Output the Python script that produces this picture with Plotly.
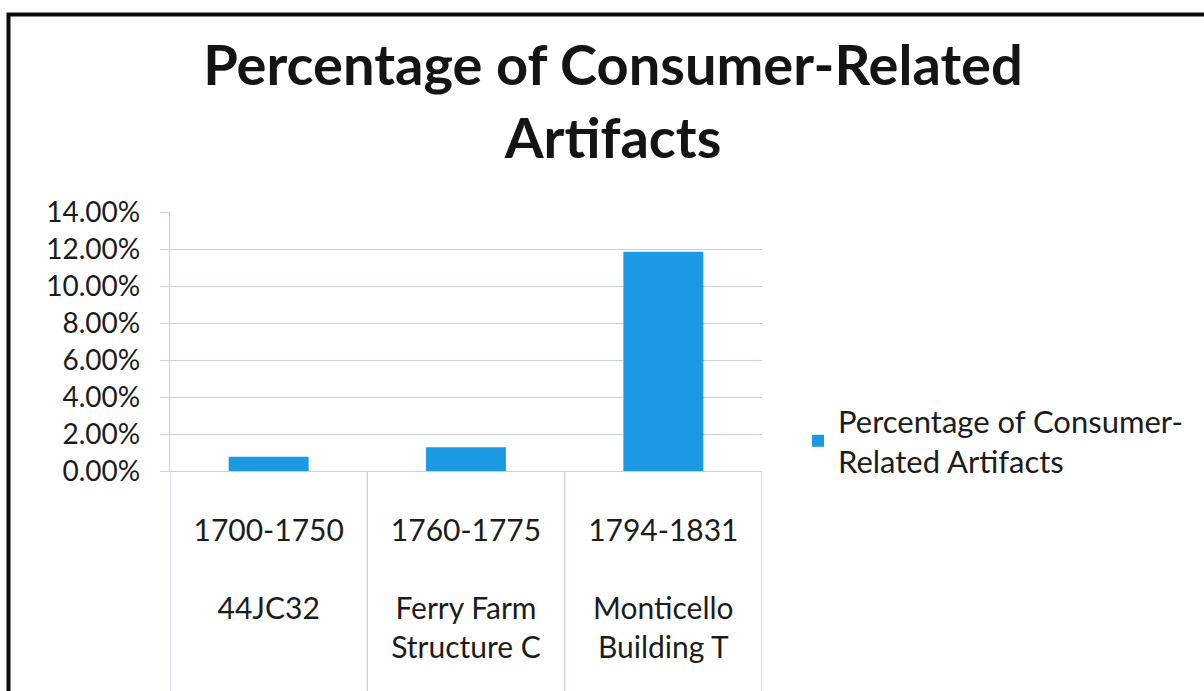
import plotly.graph_objects as go

# ---- data ----
periods = ["1700-1750", "1760-1775", "1794-1831"]
sites = ["44JC32", "Ferry Farm<br>Structure C", "Monticello<br>Building T"]
values = [0.0077, 0.0128, 0.1185]
legend_label = "Percentage of Consumer-<br>Related Artifacts"
title_text = "Percentage of Consumer-Related<br>Artifacts"
tick_vals = [0, 0.02, 0.04, 0.06, 0.08, 0.10, 0.12, 0.14]

W, H = 1204, 691
ML, MR, MT, MB = 170, 442, 212, 220
PW, PH = W - ML - MR, H - MT - MB

categories = [f"{p}<br><br>{s}" for p, s in zip(periods, sites)]

FONT = "Lato, 'Open Sans', sans-serif"
GRID = "#c9cde6"
TXT = "#1c1c1c"

fig = go.Figure()
fig.add_trace(go.Bar(
    x=categories, y=values, name=legend_label,
    marker=dict(color="#1b9ae3", line=dict(width=0)),
    showlegend=True,
))

def px_x(px):
    return (px - ML) / PW

def px_y(py):
    return (H - MB - py) / PH

shapes = []
# category divider lines below the axis
for i in range(len(categories) + 1):
    shapes.append(dict(type="line", xref="x", yref="paper",
                       x0=i - 0.5, x1=i - 0.5, y0=0, y1=px_y(H + 2),
                       line=dict(color=GRID, width=1.2), layer="below"))
# scanned page border (left and top)
shapes.append(dict(type="path", xref="paper", yref="paper",
                   path=f"M {px_x(8.5)} {px_y(H + 2)} L {px_x(8.5)} {px_y(14.5)} L {px_x(W + 2)} {px_y(14.5)}",
                   line=dict(color="#0a0a0a", width=4)))

fig.update_layout(
    width=W, height=H,
    margin=dict(l=ML, r=MR, t=MT, b=MB, autoexpand=False),
    paper_bgcolor="white", plot_bgcolor="white",
    font=dict(family=FONT, color=TXT),
    title=dict(text=f"<b>{title_text}</b>", x=613 / W, xanchor="center",
               y=1 - 85 / H, yanchor="top",
               font=dict(size=56, family=FONT, color="#141414")),
    bargap=0.595,
    showlegend=True,
    legend=dict(x=px_x(798), y=px_y(394), xanchor="left", yanchor="top",
                font=dict(size=31, family=FONT, color=TXT),
                bgcolor="rgba(0,0,0,0)", itemsizing="constant"),
    shapes=shapes,
)
fig.update_xaxes(
    type="category", range=[-0.5, len(categories) - 0.5],
    showline=True, linecolor=GRID, linewidth=1.2,
    showgrid=False, ticks="", ticklabelstandoff=33,
    tickfont=dict(size=30, family=FONT, color=TXT),
    tickangle=0,
)
fig.update_yaxes(
    range=[0, 0.14], tickvals=tick_vals, tickformat=".2%",
    showgrid=True, gridcolor=GRID, gridwidth=1.2,
    showline=True, linecolor=GRID, linewidth=1.2,
    ticks="outside", ticklen=9, tickcolor=GRID, tickwidth=1.2,
    ticklabelstandoff=14,
    tickfont=dict(size=28, family=FONT, color=TXT),
    zeroline=False,
)

fig.write_html("out.html", config={"displayModeBar": False},
               post_script="document.body.style.margin='0';document.body.style.overflow='hidden';")
